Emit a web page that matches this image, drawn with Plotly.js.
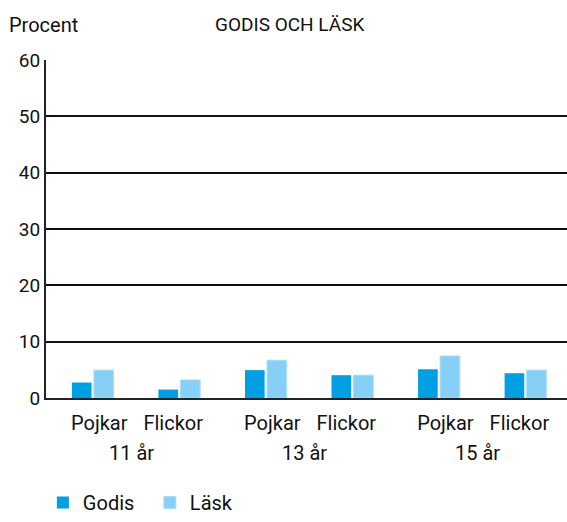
<!DOCTYPE html>
<html>
<head>
<meta charset="utf-8">
<script src="https://cdn.plot.ly/plotly-3.0.1.min.js"></script>
<style>html,body{margin:0;padding:0;background:#fff;}#chart{width:567px;height:522px;}</style>
</head>
<body>
<div id="chart"></div>
<script>
const categories = ['P11', 'F11', 'P13', 'F13', 'P15', 'F15'];
const genderLabels = ['Pojkar', 'Flickor', 'Pojkar', 'Flickor', 'Pojkar', 'Flickor'];
const ageLabels = ['11 år', '13 år', '15 år'];
const godis = [2.75, 1.5, 4.95, 4.05, 5.1, 4.4];
const lask = [4.95, 3.2, 6.7, 4.05, 7.45, 4.95];
const yTicks = [0, 10, 20, 30, 40, 50, 60];

const FONT = 'Roboto, "Open Sans", sans-serif';
const traces = [
  {type: 'bar', name: 'Godis', x: categories, y: godis, marker: {color: '#009fe3'}},
  {type: 'bar', name: 'Läsk', x: categories, y: lask, marker: {color: '#86cff6', line: {color: '#a8dcf8', width: 1}}}
];
// label positions: gender labels sit slightly toward each other within an age pair
const tickPos = categories.map((c, i) => i + (i % 2 === 0 ? 0.075 : -0.07));
const ageCenters = ageLabels.map((a, i) => 2 * i + 0.45);
const layout = {
  width: 567, height: 522,
  margin: {l: 46, r: 0, t: 60, b: 124, autoexpand: false},
  paper_bgcolor: '#fff', plot_bgcolor: '#fff',
  font: {family: FONT, size: 19, color: '#111'},
  barmode: 'group', bargap: 0.49, bargroupgap: 0.11,
  showlegend: true,
  legend: {orientation: 'h', x: -0.006, xanchor: 'left', yref: 'container', y: -0.01, yanchor: 'bottom',
           font: {size: 20}, entrywidth: 62, entrywidthmode: 'pixels'},
  xaxis: {
    type: 'category', range: [-0.54, 5.48],
    tickmode: 'array', tickvals: tickPos, ticktext: genderLabels, tickfont: {size: 20},
    showgrid: false, showline: true, linecolor: '#222', linewidth: 2,
    ticks: '', ticklabelstandoff: 6, zeroline: false, fixedrange: true
  },
  yaxis: {
    range: [0, 60], tickvals: yTicks, ticks: '',
    showgrid: true, gridcolor: '#111', gridwidth: 2,
    showline: true, linecolor: '#222', linewidth: 2,
    zeroline: false, fixedrange: true
  },
  annotations: [
    {text: 'Procent', xref: 'paper', yref: 'paper', x: -0.074, y: 1.104, xanchor: 'left', yanchor: 'middle', showarrow: false, font: {size: 20}},
    {text: 'GODIS OCH LÄSK', xref: 'paper', yref: 'paper', x: 0.468, y: 1.104, xanchor: 'center', yanchor: 'middle', showarrow: false, font: {size: 19}}
  ].concat(ageLabels.map((t, i) => ({
    text: t, xref: 'x', yref: 'paper', x: ageCenters[i], y: -0.163, xanchor: 'center', yanchor: 'middle', showarrow: false, font: {size: 20}
  })))
};
Plotly.newPlot('chart', traces, layout, {displayModeBar: false, staticPlot: true});
</script>
</body>
</html>
